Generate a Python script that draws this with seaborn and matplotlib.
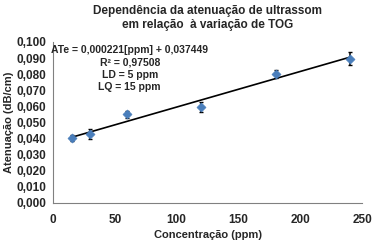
import numpy as np
import pandas as pd
import matplotlib
matplotlib.use("Agg")
import matplotlib.pyplot as plt
import seaborn as sns
from matplotlib.ticker import FuncFormatter

# dados
conc = [15, 30, 60, 120, 180, 240]
atenuacao = [0.0402, 0.0430, 0.0550, 0.0595, 0.0800, 0.0895]
erro = [0.0020, 0.0030, 0.0020, 0.0030, 0.0025, 0.0040]
# reta de calibração
coef_a = 0.000221
coef_b = 0.037449

sns.set_style("white")
plt.rcParams['font.family'] = ['Liberation Sans', 'DejaVu Sans']

df = pd.DataFrame({'conc': conc, 'atenuacao': atenuacao})
x_fit = np.array([conc[0], conc[-1]])
df_fit = pd.DataFrame({'conc': x_fit, 'atenuacao': coef_a * x_fit + coef_b})

fig = plt.figure(figsize=(3.74, 2.41), dpi=100)
ax = fig.add_axes([0.142, 0.158, 0.826, 0.668])

sns.lineplot(x='conc', y='atenuacao', data=df_fit, color='black', linewidth=1.2, ax=ax)
ax.errorbar(conc, atenuacao, yerr=erro, fmt='none', ecolor='black', elinewidth=1.1, capsize=1.5, capthick=1.0)
sns.scatterplot(x='conc', y='atenuacao', data=df, marker='D', color='#4a7ebb', s=22,
                edgecolor='#4a7ebb', zorder=3, ax=ax)

ax.set_xlim(0, 250)
ax.set_ylim(0, 0.100)
ax.set_xticks([0, 50, 100, 150, 200, 250])
ax.set_yticks(np.arange(0, 0.1001, 0.010))
ax.yaxis.set_major_formatter(FuncFormatter(lambda v, p: f"{v:.3f}".replace('.', ',')))

for s in ['top', 'right']:
    ax.spines[s].set_visible(False)
for s in ['left', 'bottom']:
    ax.spines[s].set_color('#808080')
    ax.spines[s].set_linewidth(0.8)
ax.tick_params(axis='both', direction='out', length=3, width=0.8, color='#808080',
               labelsize=8.5, pad=2)
ax.tick_params(axis='x', pad=5)
for lab in ax.get_xticklabels() + ax.get_yticklabels():
    lab.set_fontweight('bold')

ax.set_xlabel('Concentração (ppm)', fontsize=8, fontweight='bold', labelpad=3)
ax.set_ylabel('Atenuação (dB/cm)', fontsize=8, fontweight='bold', labelpad=2)

fig.suptitle('Dependência da atenuação de ultrassom\nem relação  à variação de TOG',
             x=0.555, y=0.98, fontsize=8.5, fontweight='bold', linespacing=1.25)

ax.text(62, 0.098, 'ATe = 0,000221[ppm] + 0,037449\nR² = 0,97508\nLD = 5 ppm\nLQ = 15 ppm',
        ha='center', va='top', multialignment='center', fontsize=7.5, fontweight='bold',
        linespacing=1.3)

plt.savefig('out.png', dpi=100)
